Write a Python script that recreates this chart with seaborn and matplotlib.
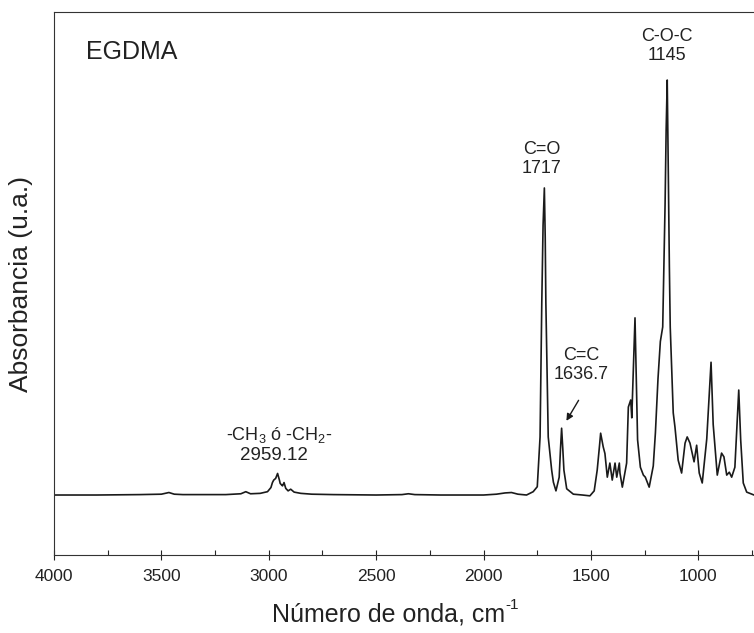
import seaborn as sns
import matplotlib.pyplot as plt
from matplotlib.ticker import MultipleLocator

# Espectro FTIR del EGDMA
wavenumber = [4000, 3800, 3600, 3500, 3465, 3440, 3400, 3200, 3130, 3107, 3085, 3040,
              3006, 2990, 2983, 2977, 2968, 2959, 2950, 2947, 2940, 2936, 2929, 2921,
              2910, 2898, 2882, 2851, 2800, 2700, 2500, 2380, 2350, 2320, 2200, 2000,
              1940, 1900, 1870, 1840, 1800, 1769, 1750, 1737, 1729, 1723, 1717, 1713,
              1710, 1699, 1683, 1675, 1663, 1648, 1642, 1636.7, 1631, 1626, 1613, 1582,
              1540, 1505, 1485, 1471, 1460, 1455, 1443, 1435, 1424, 1412, 1401, 1388,
              1380, 1368, 1365, 1354, 1334, 1326, 1315, 1310, 1295, 1283, 1270, 1256,
              1247, 1229, 1210, 1200, 1188, 1177, 1166, 1155, 1150, 1145, 1140, 1135,
              1131, 1117, 1109, 1094, 1078, 1062, 1052, 1039, 1020, 1008, 996, 982,
              961, 941, 931, 912, 892, 881, 868, 856, 845, 830, 812, 803, 791, 775, 741]
absorbance = [0.0, 0.0, 0.001, 0.002, 0.006, 0.002, 0.001, 0.001, 0.003, 0.008, 0.003, 0.004,
              0.008, 0.018, 0.030, 0.036, 0.040, 0.052, 0.035, 0.028, 0.024, 0.022, 0.030, 0.016,
              0.010, 0.014, 0.007, 0.004, 0.002, 0.001, 0.0, 0.001, 0.003, 0.001, 0.0, 0.0,
              0.002, 0.005, 0.006, 0.002, 0.0, 0.008, 0.02, 0.14, 0.463, 0.65, 0.74, 0.62,
              0.463, 0.14, 0.06, 0.031, 0.01, 0.043, 0.11, 0.161, 0.11, 0.06, 0.015, 0.002,
              0.0, -0.002, 0.01, 0.06, 0.12, 0.149, 0.116, 0.10, 0.043, 0.077, 0.036, 0.077,
              0.043, 0.077, 0.053, 0.019, 0.077, 0.212, 0.229, 0.186, 0.427, 0.133, 0.067, 0.048,
              0.043, 0.019, 0.07, 0.15, 0.28, 0.37, 0.405, 0.70, 0.88, 1.0, 0.78, 0.55,
              0.405, 0.198, 0.164, 0.084, 0.053, 0.125, 0.140, 0.125, 0.080, 0.120, 0.053, 0.029,
              0.135, 0.32, 0.17, 0.048, 0.101, 0.092, 0.048, 0.055, 0.043, 0.067, 0.253, 0.133,
              0.029, 0.007, 0.0]

sns.set_style("ticks")
plt.rcParams['font.family'] = ['Liberation Sans', 'DejaVu Sans']
plt.rcParams['mathtext.default'] = 'regular'

fig = plt.figure(figsize=(7.54, 6.33), dpi=100)
ax = fig.add_axes([0.0716, 0.1232, 0.9284, 0.8578])

sns.lineplot(x=wavenumber, y=absorbance, ax=ax, color='#1a1a1a', linewidth=1.2)

ax.set_xlim(4000, 741)
ax.set_ylim(-0.1446, 1.164)
ax.xaxis.set_major_locator(MultipleLocator(500))
ax.xaxis.set_minor_locator(MultipleLocator(250))
ax.set_yticks([])
ax.tick_params(axis='x', which='major', direction='inout', length=6.5, width=0.8,
               labelsize=12.5, pad=7, colors='#222222')
ax.tick_params(axis='x', which='minor', direction='in', length=3.6, width=0.8)
for s in ['left', 'bottom', 'top']:
    ax.spines[s].set_linewidth(0.8)
    ax.spines[s].set_color('#333333')
ax.spines['right'].set_visible(False)

ax.set_xlabel('Número de onda, cm', fontsize=18, color='#222222')
ax.set_ylabel('Absorbancia (u.a.)', fontsize=19, color='#222222')
ax.xaxis.set_label_coords(0.478, -0.088)
ax.yaxis.set_label_coords(-0.03, 0.5)
# superindice -1 pequeño, como en el original
ax.annotate('-1', xy=(1.0, 0.92), xycoords=ax.xaxis.label, fontsize=11,
            ha='left', va='center', color='#222222')

# etiquetas de los picos
ax.text(0.046, 0.926, 'EGDMA', transform=ax.transAxes, fontsize=18,
        ha='left', va='center', color='#222222')
ax.text(1146, 1.082, 'C-O-C\n1145', fontsize=13, ha='center', va='center', color='#222222')
ax.text(1730, 0.81, 'C=O\n1717', fontsize=13, ha='center', va='center', color='#222222')
ax.text(1547, 0.313, 'C=C\n1636.7', fontsize=13, ha='center', va='center', color='#222222')
ax.annotate('', xy=(1621, 0.173), xytext=(1551, 0.234),
            arrowprops=dict(arrowstyle='-|>', color='#1a1a1a', lw=1, mutation_scale=10))
ax.text(2950, 0.145, '-CH$_3$ ó -CH$_2$-', fontsize=13, ha='center', va='center', color='#222222')
ax.text(2975, 0.096, '2959.12', fontsize=13.5, ha='center', va='center', color='#222222')

fig.savefig('out.png', dpi=100)
